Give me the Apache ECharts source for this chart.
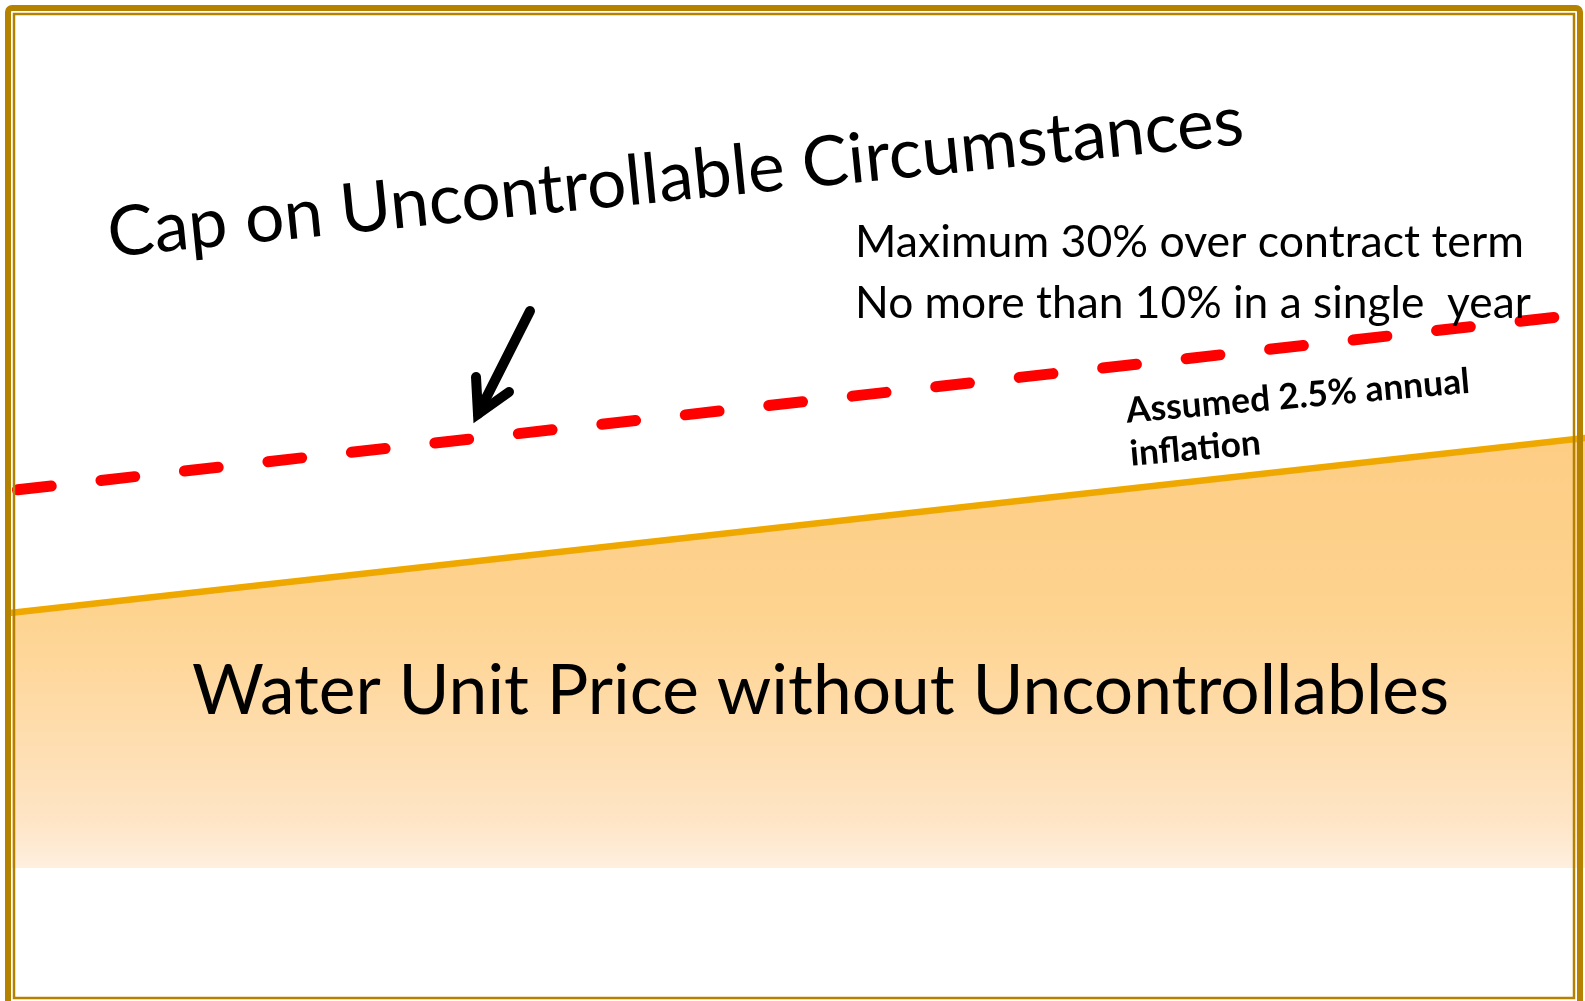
<!DOCTYPE html>
<html><head><meta charset="utf-8">
<script src="https://cdn.jsdelivr.net/npm/echarts@6/dist/echarts.min.js"></script>
<style>html,body{margin:0;padding:0;background:#fff;overflow:hidden}#chart{width:1585px;height:1001px}</style>
</head><body><div id="chart"></div>
<script>
// ---- data ----
const years = [0, 20];
const unitPriceWithoutUncontrollables = [31.9, 53.75];   // orange line (2.5% annual inflation)
const capOnUncontrollables = [47.2, 69.26];              // red dashed cap line

// ---- texts ----
const titleText = 'Cap on Uncontrollable Circumstances';
const noteLine1 = 'Maximum 30% over contract term';
const noteLine2 = 'No more than 10% in a single  year';
const inflLine1 = 'Assumed 2.5% annual';
const inflLine2 = 'inflation';
const areaText = 'Water Unit Price without Uncontrollables';

const FAMILY = 'Lato';
const cv = document.createElement('canvas').getContext('2d');
function fitSize(text, weight, target) {
  cv.font = weight + ' 100px ' + FAMILY;
  return target / cv.measureText(text).width * 100;
}
function baseOff(size, weight) {
  cv.font = weight + ' ' + size + 'px ' + FAMILY;
  cv.textBaseline = 'alphabetic';
  const m = cv.measureText('Hg');
  let off = 0.35 * size;
  if (m.fontBoundingBoxAscent) off = (m.fontBoundingBoxAscent - m.fontBoundingBoxDescent) / 2;
  return off - 0.08 * size;
}
function makeText(str, weight, bx, by, width, deg) {
  const size = fitSize(str, weight, width);
  const off = baseOff(size, weight);
  const t = deg * Math.PI / 180;
  return {
    type: 'text', z: 100,
    x: bx - off * Math.sin(t), y: by - off * Math.cos(t), rotation: t,
    style: { text: str, font: weight + ' ' + size.toFixed(2) + 'px ' + FAMILY, fill: '#000', align: 'left', verticalAlign: 'middle' }
  };
}

const chart = echarts.init(document.getElementById('chart'), null, { renderer: 'canvas' });
const BORDER = '#B58200';
const option = {
  animation: false,
  backgroundColor: '#fff',
  grid: { left: 12, right: 0, top: 68, bottom: 133 },
  xAxis: { type: 'value', min: 0, max: 20, show: false },
  yAxis: { type: 'value', min: 0, max: 100, show: false },
  series: [
    {
      type: 'line', symbol: 'none', z: 2,
      data: years.map((x, i) => [x, unitPriceWithoutUncontrollables[i]]),
      lineStyle: { color: '#EEA800', width: 6.5, cap: 'round' },
      areaStyle: {
        origin: 'start', opacity: 1,
        color: new echarts.graphic.LinearGradient(0, 0, 0, 1, [
          { offset: 0, color: '#FDCD84' },
          { offset: 0.4, color: '#FDD38F' },
          { offset: 0.5, color: '#FED698' },
          { offset: 0.89, color: '#FEE5C6' },
          { offset: 1, color: '#FEEFDF' }
        ])
      }
    },
    {
      type: 'line', symbol: 'none', z: 3,
      data: years.map((x, i) => [x, capOnUncontrollables[i]]),
      lineStyle: { color: '#FF0000', width: 11, type: [34, 50], dashOffset: 78.5, cap: 'round' }
    }
  ],
  graphic: [
    { type: 'rect', z: 200, shape: { x: 8, y: 8, width: 1572, height: 1010, r: 4 }, style: { fill: 'none', stroke: BORDER, lineWidth: 6 } },
    { type: 'rect', z: 200, shape: { x: 14, y: 14, width: 1560, height: 984 }, style: { fill: 'none', stroke: BORDER, lineWidth: 2.5 } },
    { type: 'polyline', z: 150, shape: { points: [[530, 311], [478, 414]] }, style: { stroke: '#000', lineWidth: 10, lineCap: 'round', fill: null } },
    { type: 'polyline', z: 150, shape: { points: [[476, 377], [478, 414], [509, 392]] }, style: { stroke: '#000', lineWidth: 10, lineCap: 'round', lineJoin: 'miter', fill: null } },
    makeText(titleText, 'normal', 110, 256, 1141, 5.69),
    makeText(noteLine1, 'normal', 855, 256, 669, 0),
    makeText(noteLine2, 'normal', 855, 318, 676, 0),
    makeText(inflLine1, 'bold', 1127, 422, 345, 5),
    makeText(inflLine2, 'bold', 1131, 465, 131, 5),
    makeText(areaText, 'normal', 192, 713, 1257, 0)
  ]
};
chart.setOption(option);
</script></body></html>
